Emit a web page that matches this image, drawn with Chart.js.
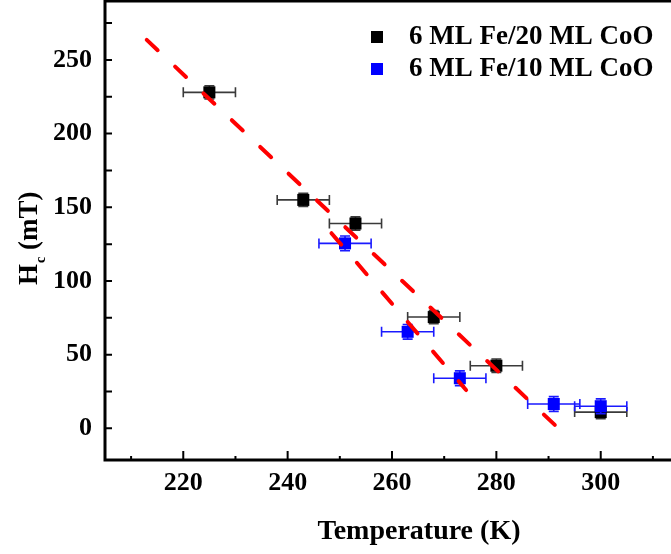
<!DOCTYPE html>
<html>
<head>
<meta charset="utf-8">
<script src="https://cdn.jsdelivr.net/npm/chart.js@4.4.1/dist/chart.umd.min.js"></script>
<style>
  html, body { margin: 0; padding: 0; background: #fff; overflow: hidden; }
</style>
</head>
<body>
<canvas id="hcChart" width="684" height="554"></canvas>
<script>
// 6 ML Fe/20 ML CoO
const tempFe20 = [225, 243, 253, 268, 280, 300];
const hcFe20 = [228, 155, 139, 75.5, 42.5, 11];
const tempErrFe20 = [5, 5, 5, 5, 5, 5];
const hcErrFe20 = [4.5, 4.5, 4.5, 4.5, 4.5, 4.5];

// 6 ML Fe/10 ML CoO
const tempFe10 = [251, 263, 273, 291, 300];
const hcFe10 = [125.5, 65.5, 34, 16.5, 15];
const tempErrFe10 = [5, 5, 5, 5, 5];
const hcErrFe10 = [5, 5, 5, 5, 5];

// red dashed guide lines
const fitTempA = [213, 291.6];
const fitHcA = [263.6, 1];
const fitTempB = [248.4, 274.2];
const fitHcB = [132.4, 26];

// tick positions (labelled every other one)
const xTicks = [210, 220, 230, 240, 250, 260, 270, 280, 290, 300, 310];
const yTicks = [0, 25, 50, 75, 100, 125, 150, 175, 200, 225, 250, 275];

const xTitle = 'Temperature (K)';
const FONT = "'Liberation Serif', 'Times New Roman', serif";

function toPoints(xs, ys) {
    return xs.map((v, i) => ({ x: v, y: ys[i] }));
}

// error bars, drawn just before each dataset's own markers
const errorBars = {
    id: 'errorBars',
    beforeDatasetDraw(chart, args) {
        const ds = chart.data.datasets[args.index];
        if (!ds.errX) return;
        const x = chart.scales.x, y = chart.scales.y;
        const ctx = chart.ctx;
        ctx.save();
        ctx.strokeStyle = ds.errColor;
        ctx.lineWidth = 1.6;
        ds.data.forEach((p, i) => {
            const px = x.getPixelForValue(p.x);
            const py = y.getPixelForValue(p.y);
            const x0 = x.getPixelForValue(p.x - ds.errX[i]);
            const x1 = x.getPixelForValue(p.x + ds.errX[i]);
            const y0 = y.getPixelForValue(p.y - ds.errY[i]);
            const y1 = y.getPixelForValue(p.y + ds.errY[i]);
            ctx.beginPath();
            ctx.moveTo(x0, py); ctx.lineTo(x1, py);
            ctx.moveTo(x0, py - 5); ctx.lineTo(x0, py + 5);
            ctx.moveTo(x1, py - 5); ctx.lineTo(x1, py + 5);
            ctx.moveTo(px, y0); ctx.lineTo(px, y1);
            ctx.moveTo(px - 5, y0); ctx.lineTo(px + 5, y0);
            ctx.moveTo(px - 5, y1); ctx.lineTo(px + 5, y1);
            ctx.stroke();
        });
        ctx.restore();
    }
};

// box frame, inward ticks, axis titles and the legend
const decorations = {
    id: 'decorations',
    afterDraw(chart) {
        const { ctx, chartArea: a } = chart;
        const x = chart.scales.x, y = chart.scales.y;
        ctx.save();
        ctx.strokeStyle = '#000';
        ctx.lineWidth = 3;
        ctx.strokeRect(a.left, a.top, a.right - a.left, a.bottom - a.top);

        ctx.lineWidth = 2;
        ctx.beginPath();
        x.ticks.forEach(t => {
            const px = x.getPixelForValue(t.value);
            const len = t.value % 20 === 0 ? 9 : 4;
            ctx.moveTo(px, a.bottom);
            ctx.lineTo(px, a.bottom - len);
        });
        y.ticks.forEach(t => {
            const py = y.getPixelForValue(t.value);
            ctx.moveTo(a.left, py);
            ctx.lineTo(a.left + 7, py);
        });
        ctx.stroke();

        ctx.fillStyle = '#000';
        // x title
        ctx.font = 'bold 28px ' + FONT;
        ctx.textAlign = 'center';
        ctx.textBaseline = 'middle';
        ctx.fillText(xTitle, 419, 532);

        // y title: H with subscript c, then (mT)
        ctx.save();
        ctx.translate(37, 285);
        ctx.rotate(-Math.PI / 2);
        ctx.textAlign = 'left';
        ctx.textBaseline = 'alphabetic';
        ctx.font = 'bold 27px ' + FONT;
        ctx.fillText('H', 0, 0);
        const wH = ctx.measureText('H').width;
        ctx.font = 'bold 14px ' + FONT;
        ctx.fillText('c', wH + 1, 8);
        const wc = ctx.measureText('c').width;
        ctx.font = 'bold 27px ' + FONT;
        ctx.fillText(' (mT)', wH + wc + 1, 0);
        ctx.restore();

        // legend
        ctx.font = 'bold 27px ' + FONT;
        ctx.textAlign = 'left';
        ctx.textBaseline = 'middle';
        chart.data.datasets.filter(d => d.errX).forEach((d, i) => {
            const cy = 37 + i * 32;
            ctx.fillStyle = d.backgroundColor;
            ctx.fillRect(371, cy - 6, 12, 12);
            ctx.fillStyle = '#000';
            ctx.fillText(d.label, 409, cy);
        });
        ctx.restore();
    }
};

const ctx = document.getElementById('hcChart').getContext('2d');
new Chart(ctx, {
    type: 'scatter',
    data: {
        datasets: [
            {
                label: '6 ML Fe/20 ML CoO',
                data: toPoints(tempFe20, hcFe20),
                errX: tempErrFe20,
                errY: hcErrFe20,
                errColor: '#3a3a3a',
                pointStyle: 'rect',
                pointRadius: 8.5,
                backgroundColor: '#000000',
                borderColor: '#000000',
                borderWidth: 0,
                order: 2
            },
            {
                label: '6 ML Fe/10 ML CoO',
                data: toPoints(tempFe10, hcFe10),
                errX: tempErrFe10,
                errY: hcErrFe10,
                errColor: '#1a1aff',
                pointStyle: 'rect',
                pointRadius: 8.5,
                backgroundColor: '#0000ff',
                borderColor: '#0000ff',
                borderWidth: 0,
                order: 1
            },
            {
                label: 'fit A',
                data: toPoints(fitTempA, fitHcA),
                showLine: true,
                borderColor: '#ff0000',
                borderWidth: 4,
                borderDash: [15, 24],
                borderCapStyle: 'round',
                pointRadius: 0,
                order: 0
            },
            {
                label: 'fit B',
                data: toPoints(fitTempB, fitHcB),
                showLine: true,
                borderColor: '#ff0000',
                borderWidth: 4,
                borderDash: [15, 24],
                borderCapStyle: 'round',
                pointRadius: 0,
                order: 0
            }
        ]
    },
    options: {
        responsive: false,
        animation: false,
        events: [],
        layout: { autoPadding: false, padding: { left: 0, top: 1, right: 5, bottom: 0 } },
        plugins: {
            legend: { display: false },
            tooltip: { enabled: false }
        },
        scales: {
            x: {
                type: 'linear',
                min: 205,
                max: 315,
                grid: { display: false, drawTicks: false },
                border: { display: false },
                ticks: {
                    autoSkip: false,
                    maxRotation: 0,
                    padding: 8,
                    color: '#000',
                    font: { family: FONT, size: 26, weight: 'bold' },
                    callback: v => (v % 20 === 0 ? v : '')
                },
                afterBuildTicks(scale) {
                    scale.ticks = xTicks.map(v => ({ value: v }));
                },
                afterFit(scale) {
                    scale.height = 94;
                    scale.paddingLeft = 0;
                    scale.paddingRight = 0;
                }
            },
            y: {
                type: 'linear',
                min: -21.5,
                max: 290,
                grid: { display: false, drawTicks: false },
                border: { display: false },
                ticks: {
                    autoSkip: false,
                    padding: 13,
                    color: '#000',
                    font: { family: FONT, size: 26, weight: 'bold' },
                    callback: v => (v % 50 === 0 ? v : '')
                },
                afterBuildTicks(scale) {
                    scale.ticks = yTicks.map(v => ({ value: v }));
                },
                afterFit(scale) {
                    scale.width = 105;
                    scale.paddingTop = 0;
                    scale.paddingBottom = 0;
                }
            }
        }
    },
    plugins: [errorBars, decorations]
});
</script>
</body>
</html>
